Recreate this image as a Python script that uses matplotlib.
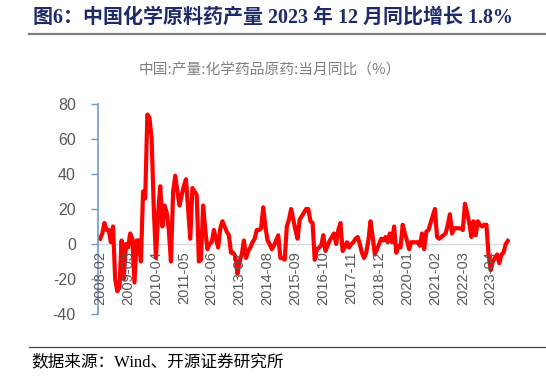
import matplotlib
matplotlib.use("Agg")
import matplotlib.pyplot as plt
import pandas as pd
import numpy as np

# ---- data ----
months = pd.date_range("2008-02-01", "2023-12-01", freq="MS").strftime("%Y-%m").tolist()
yoy = [3, 6, 12, 8, 8, 1, 10, -20, -27, -25,
       2, -20, 0, -2, 6, 3, -22, 2, 2, -10,
       30, 26, 74, 72, 60, 20, -8, 17, 33, 10,
       22, 18, 8, -10, 30, 39, 30, 22, 28, 33,
       37, 20, 3, 32, 30, 28, -10, -9, 22, 8,
       -3, 0, 1, 8, 3, -2, 9, 13, 10, 7,
       5, -5, -5, -7, -17, -10, -6, 2, -8, -4,
       -2, 1, 3, 8, 8, 9, 21, 10, 2, 0,
       -3, -1, 2, 5, -8, -8, -9, 10, 14, 20,
       14, 8, 3, 14, 16, 18, 20, 20, 13, 12,
       -9, -3, -2, -1, 5, -4, -1, 2, 4, 6,
       0, 8, 12, -4, -2, 1, -2, 0, 1, 3,
       4, 0, -5, -8, -5, 2, 13, 4, -6, -3,
       0, 3, 2, 4, 1, 6, 1, 10, -5, -1,
       -2, 11, 6, 2, -3, 1, 1, 1, 1, -1,
       6, -3, 7, 8, 12, 16, 20, 4, 3, 4,
       5, 6, 11, 17, 6, 9, 9, 9, 9, 8,
       23, 18, 12, 4, 13, 5, 13, 11, 10, 11,
       11, -6, -15, -10, -8, -6, -11, -6, -5, 0,
       1.8]
yticks = [-40, -20, 0, 20, 40, 60, 80]

title = "图6：中国化学原料药产量 2023 年 12 月同比增长 1.8%"
subtitle = "中国:产量:化学药品原药:当月同比（%）"
source = "数据来源：Wind、开源证券研究所"

serif = ["Liberation Serif", "Noto Sans CJK SC"]
cjk = ["Noto Sans CJK SC", "DejaVu Sans"]

fig = plt.figure(figsize=(5.46, 3.77), dpi=100)
ax = fig.add_axes([98/546, 1-314/377, (510-98)/546, (314-104)/377])

# spine position first (it resets tick properties)
for s in ["top", "right"]:
    ax.spines[s].set_visible(False)
ax.spines["bottom"].set_position(("data", 0))
ax.spines["bottom"].set_color("#D9D9D9")
ax.spines["bottom"].set_linewidth(1.0)
ax.spines["left"].set_color("#6F98CC")
ax.spines["left"].set_linewidth(1.2)
ax.set_axisbelow(False)
ax.spines["bottom"].set_zorder(1)

x = np.arange(len(months))
ax.plot(x, yoy, color="#FF0000", lw=3.0, solid_joinstyle="round", zorder=2)

ax.set_ylim(-40, 80)
ax.set_xlim(-1, len(months))
ax.set_yticks(yticks)
ax.set_yticklabels([str(v) for v in yticks], fontsize=11.5, color="#595959",
                   family="Liberation Sans")
ax.set_xticks(x[::13])
ax.set_xticklabels(months[::13], rotation=90, fontsize=10.5, color="#595959",
                   family="Liberation Sans", va="top", ha="center")

ax.tick_params(axis="y", direction="out", length=5, color="#6F98CC", width=1.0, pad=11)
ax.tick_params(axis="x", length=0, pad=5)

fig.text(33/546, 1-18/377, title, family=serif, fontweight="bold", fontsize=14.4,
         color="#1F2A6B", va="center", ha="left")
fig.add_artist(plt.Line2D([29/546, 1], [1-33.5/377]*2, color="#7F7F7F", lw=1.6))
fig.text(270/546, 1-70/377, subtitle, family=cjk, fontsize=10.6, color="#808080",
         va="center", ha="center")
fig.add_artist(plt.Line2D([29/546, 1], [1-347/377]*2, color="#404040", lw=0.9))
fig.text(31/546, 1-362/377, source, family=serif, fontsize=12, color="#000000",
         va="center", ha="left")

fig.savefig("out.png", dpi=100)
